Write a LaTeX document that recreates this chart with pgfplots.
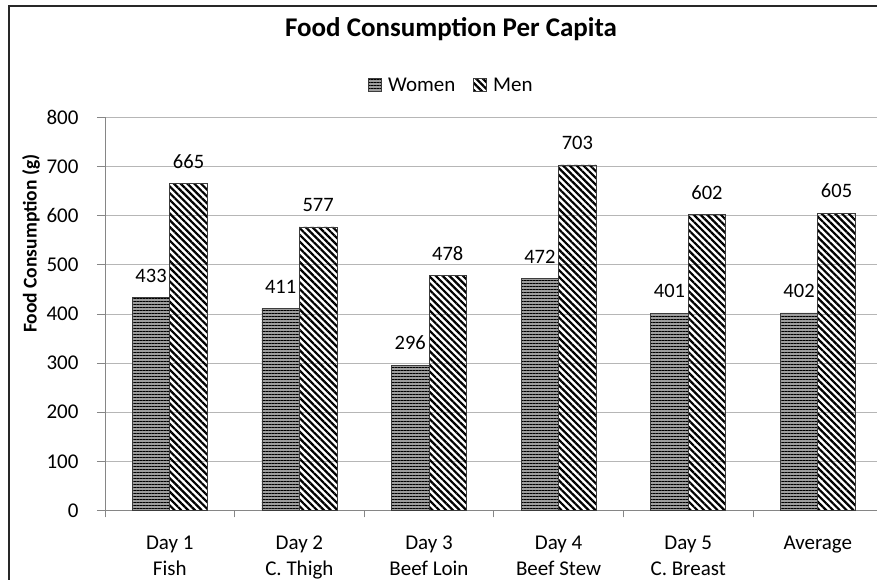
\documentclass[border=0pt]{standalone}
\usepackage{pgfplots}
\pgfplotsset{compat=1.18}
\usepackage{fontspec}
\setmainfont{Carlito}
\usetikzlibrary{patterns.meta}

\definecolor{gridgray}{RGB}{182,182,182}
\definecolor{axisgray}{RGB}{134,134,134}
\definecolor{womenfill}{RGB}{158,158,158}
\definecolor{baredge}{RGB}{60,60,60}
\definecolor{framegray}{RGB}{40,40,40}

\pgfplotsset{
  squarelegend/.style={
    legend image code/.code={%
      \draw[##1] (0pt,-6.5pt) rectangle (13pt,6.5pt);
      \path (17pt,0pt);}
  },
  women/.style={
    fill=womenfill, draw=baredge, line width=0.8pt,
    postaction={pattern={Lines[angle=0,distance=3pt,line width=0.9pt]}, pattern color=black}
  },
  men/.style={
    fill=white, draw=baredge, line width=0.8pt,
    pattern={Lines[angle=-45,distance=4.8pt,line width=2.2pt]}, pattern color=black
  },
}

\begin{document}
\begin{tikzpicture}
\useasboundingbox (0pt,0pt) rectangle (877pt,580pt);
\clip (0pt,0pt) rectangle (877pt,580pt);
\fill[white] (0pt,0pt) rectangle (877pt,580pt);
\draw[framegray, line width=1.4pt] (9pt,0pt) -- (9pt,574pt) -- (877pt,574pt);

\node[font=\fontsize{27}{30}\selectfont\bfseries, anchor=base] at (451pt,543pt) {Food Consumption Per Capita};
\node[font=\fontsize{19.5}{23}\selectfont\bfseries, rotate=90, anchor=base] at (36.5pt,336.4pt) {Food Consumption (g)};

\begin{axis}[
  at={(105pt,69.5pt)}, anchor=south west,
  scale only axis, width=777.6pt, height=393.2pt,
  xmin=-0.5, xmax=5.5, ymin=0, ymax=800,
  ybar=0pt, bar width=37.5pt,
  /pgf/number format/assume math mode=true,
  axis lines*=left,
  axis line style={-, axisgray, line width=0.8pt},
  ymajorgrids, grid style={gridgray, line width=0.8pt},
  ytick={0,100,...,800},
  tick align=outside,
  major tick length=8pt,
  minor tick length=7pt,
  ytick style={axisgray, line width=0.8pt},
  xtick={0,1,2,3,4,5},
  xticklabels={Day 1\\Fish, Day 2\\C. Thigh, Day 3\\Beef Loin, Day 4\\Beef Stew, Day 5\\C. Breast, Average},
  major x tick style={draw=none},
  minor xtick={-0.5,0.5,1.5,2.5,3.5,4.5,5.5},
  minor x tick style={axisgray, line width=0.8pt},
  xticklabel style={font=\fontsize{21}{25.5}\selectfont, align=center, anchor=north, yshift=-14pt},
  yticklabel style={font=\fontsize{21}{24}\selectfont, xshift=-15pt},
  nodes near coords,
  every node near coord/.append style={font=\fontsize{20.5}{24}\selectfont, inner sep=0pt, anchor=south, yshift=15pt},
  legend columns=2,
  legend style={at={(rel axis cs:0.4456,1.082)}, anchor=center, draw=none, fill=none,
    font=\fontsize{21}{24}\selectfont,
    /tikz/every even column/.append style={column sep=16pt}},
  clip=false,
]
\addplot[women, squarelegend] coordinates {(0,433) (1,411) (2,296) (3,472) (4,401) (5,402)};
\addlegendentry{Women}
\addplot[men, squarelegend] coordinates {(0,665) (1,577) (2,478) (3,703) (4,602) (5,605)};
\addlegendentry{Men}
\end{axis}
\end{tikzpicture}
\end{document}
